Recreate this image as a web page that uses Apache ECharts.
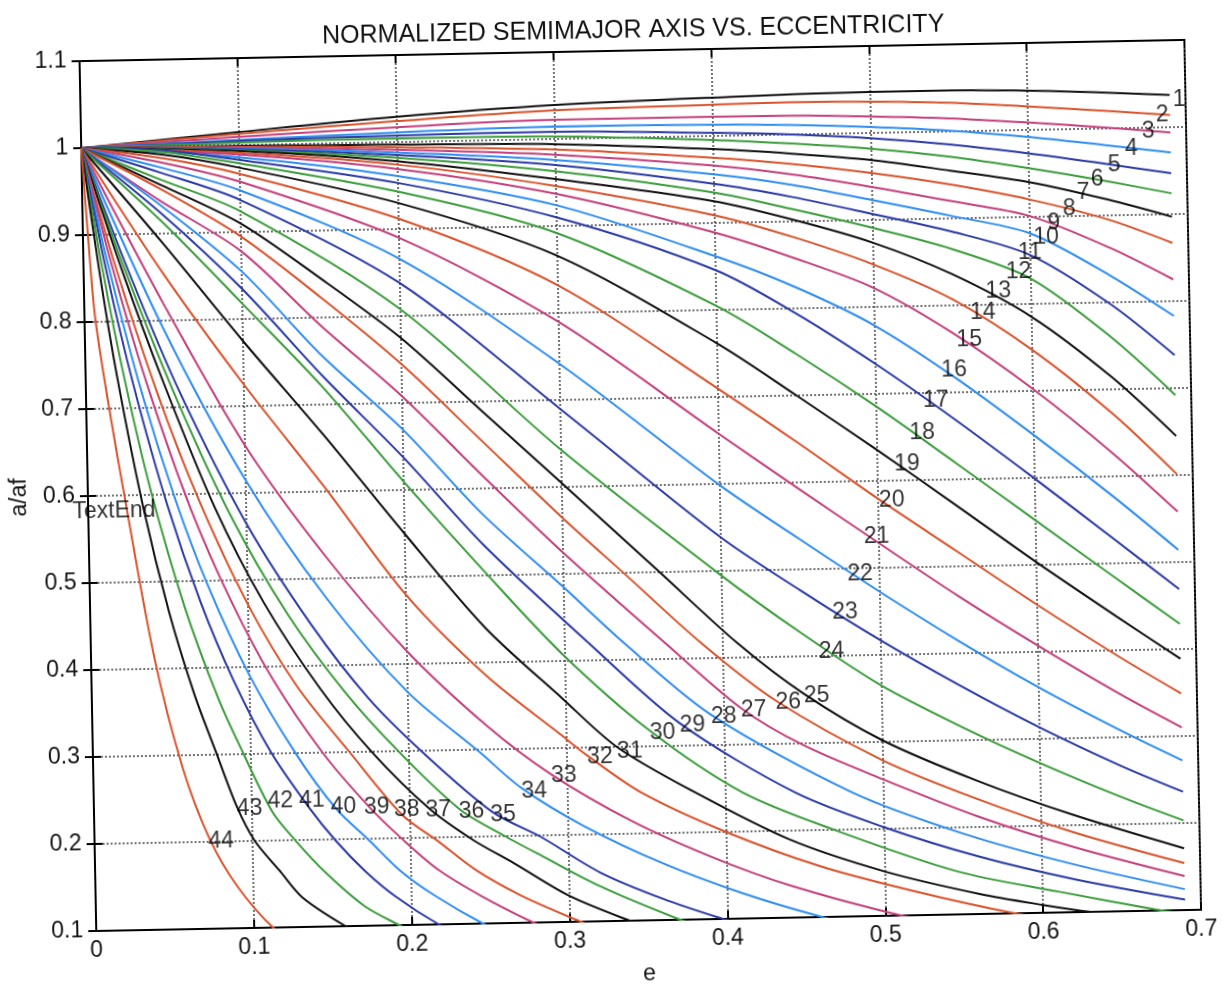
<!DOCTYPE html>
<html><head><meta charset="utf-8">
<script src="https://cdn.jsdelivr.net/npm/echarts@6/dist/echarts.min.js"></script>
<style>html,body{margin:0;padding:0;background:#fff;overflow:hidden;}#chart{width:1223px;height:991px;transform:rotate(-1.1deg);transform-origin:50% 50%;}</style>
</head><body><div id="chart"></div>
<script>
const chartTitle = 'NORMALIZED SEMIMAJOR AXIS VS. ECCENTRICITY';
const xName = 'e';
const yName = 'a/af';
const lineColors = ['#111111', '#d9532c', '#c4407c', '#2f8df2', '#2b3aa6', '#3c9d3c'];

// [e, a/af] points, one array per curve
const c01 = [[0,1],[0.1,1.015],[0.2,1.029],[0.3,1.039],[0.4,1.044],[0.5,1.047],[0.55,1.047],[0.6,1.045],[0.65,1.041],[0.69,1.037]];
const c02 = [[0,1],[0.1,1.013],[0.2,1.024],[0.3,1.033],[0.4,1.036],[0.45,1.037],[0.5,1.036],[0.55,1.033],[0.6,1.027],[0.65,1.02],[0.69,1.014]];
const c03 = [[0,1],[0.1,1.0095],[0.2,1.017],[0.3,1.022],[0.4,1.022],[0.45,1.0215],[0.5,1.019],[0.55,1.015],[0.6,1.0085],[0.65,1.001],[0.69,0.994]];
const c04 = [[0,1],[0.1,1.006],[0.2,1.011],[0.3,1.0145],[0.4,1.013],[0.45,1.011],[0.5,1.007],[0.55,1.001],[0.6,0.992],[0.65,0.9805],[0.69,0.971]];
const c05 = [[0,1],[0.1,1.0045],[0.2,1.0076],[0.3,1.0084],[0.4,1.0037],[0.45,1.0],[0.5,0.994],[0.55,0.985],[0.6,0.973],[0.65,0.959],[0.69,0.947]];
const c06 = [[0,1],[0.1,1.003],[0.2,1.0043],[0.3,1.003],[0.4,0.9955],[0.45,0.9896],[0.5,0.982],[0.55,0.971],[0.6,0.956],[0.65,0.939],[0.69,0.924]];
const c07 = [[0,1],[0.1,0.999],[0.2,0.997],[0.3,0.994],[0.4,0.985],[0.45,0.978],[0.5,0.969],[0.55,0.955],[0.6,0.94],[0.65,0.918],[0.69,0.897]];
const c08 = [[0,1],[0.1,0.998],[0.2,0.994],[0.3,0.988],[0.4,0.975],[0.45,0.966],[0.5,0.954],[0.55,0.939],[0.6,0.92],[0.65,0.895],[0.69,0.867]];
const c09 = [[0,1],[0.1,0.997],[0.2,0.991],[0.3,0.982],[0.4,0.966],[0.45,0.954],[0.5,0.938],[0.55,0.92],[0.6,0.901],[0.65,0.863],[0.69,0.825]];
const c10 = [[0,1],[0.1,0.996],[0.2,0.988],[0.3,0.976],[0.4,0.956],[0.45,0.942],[0.5,0.923],[0.55,0.903],[0.6,0.881],[0.65,0.831],[0.69,0.783]];
const c11 = [[0,1],[0.1,0.995],[0.2,0.985],[0.3,0.97],[0.4,0.945],[0.45,0.928],[0.5,0.907],[0.55,0.885],[0.6,0.856],[0.65,0.798],[0.69,0.738]];
const c12 = [[0,1],[0.1,0.994],[0.2,0.982],[0.3,0.963],[0.4,0.935],[0.45,0.914],[0.5,0.891],[0.55,0.865],[0.6,0.829],[0.65,0.76],[0.69,0.692]];
const c13 = [[0,1],[0.1,0.993],[0.2,0.978],[0.3,0.954],[0.4,0.925],[0.45,0.902],[0.5,0.874],[0.55,0.836],[0.6,0.785],[0.65,0.714],[0.69,0.645]];
const c14 = [[0,1],[0.1,0.991],[0.2,0.974],[0.3,0.946],[0.4,0.909],[0.45,0.882],[0.5,0.849],[0.55,0.807],[0.6,0.747],[0.65,0.672],[0.69,0.601]];
const c15 = [[0,1],[0.1,0.989],[0.2,0.969],[0.3,0.937],[0.4,0.889],[0.45,0.858],[0.5,0.822],[0.55,0.768],[0.6,0.702],[0.65,0.626],[0.69,0.558]];
const c16 = [[0,1],[0.1,0.986],[0.2,0.961],[0.3,0.924],[0.4,0.862],[0.45,0.825],[0.5,0.779],[0.55,0.718],[0.6,0.649],[0.65,0.576],[0.69,0.514]];
const c17 = [[0,1],[0.05,0.996],[0.1,0.983],[0.2,0.953],[0.3,0.91],[0.4,0.846],[0.45,0.795],[0.5,0.735],[0.55,0.669],[0.6,0.599],[0.65,0.527],[0.69,0.469]];
const c18 = [[0,1],[0.05,0.994],[0.1,0.979],[0.2,0.943],[0.3,0.892],[0.4,0.805],[0.45,0.748],[0.5,0.686],[0.55,0.619],[0.6,0.551],[0.65,0.483],[0.69,0.429]];
const c19 = [[0,1],[0.05,0.991],[0.1,0.974],[0.2,0.93],[0.3,0.866],[0.4,0.762],[0.45,0.7],[0.5,0.636],[0.55,0.57],[0.6,0.503],[0.65,0.439],[0.69,0.389]];
const c20 = [[0,1],[0.05,0.987],[0.1,0.967],[0.2,0.912],[0.3,0.832],[0.4,0.71],[0.45,0.646],[0.5,0.58],[0.55,0.517],[0.6,0.454],[0.65,0.394],[0.69,0.349]];
const c21 = [[0,1],[0.05,0.982],[0.1,0.958],[0.2,0.89],[0.3,0.79],[0.4,0.658],[0.45,0.593],[0.5,0.529],[0.55,0.466],[0.6,0.407],[0.65,0.351],[0.69,0.31]];
const c22 = [[0,1],[0.05,0.976],[0.1,0.948],[0.2,0.866],[0.3,0.742],[0.4,0.599],[0.45,0.535],[0.5,0.473],[0.55,0.414],[0.6,0.359],[0.65,0.309],[0.69,0.272]];
const c23 = [[0,1],[0.05,0.97],[0.1,0.937],[0.2,0.838],[0.3,0.69],[0.4,0.539],[0.45,0.476],[0.5,0.417],[0.55,0.363],[0.6,0.313],[0.65,0.268],[0.69,0.236]];
const c24 = [[0,1],[0.05,0.962],[0.1,0.924],[0.2,0.808],[0.3,0.643],[0.4,0.495],[0.45,0.427],[0.5,0.365],[0.55,0.316],[0.6,0.272],[0.65,0.232],[0.69,0.203]];
const c25 = [[0,1],[0.05,0.956],[0.1,0.91],[0.15,0.845],[0.2,0.775],[0.25,0.69],[0.3,0.605],[0.36,0.502],[0.41,0.416],[0.451,0.357],[0.5,0.302],[0.56,0.253],[0.62,0.212],[0.69,0.171]];
const c26 = [[0,1],[0.05,0.951],[0.1,0.895],[0.15,0.823],[0.2,0.745],[0.25,0.655],[0.3,0.565],[0.34,0.497],[0.387,0.417],[0.433,0.35],[0.5,0.279],[0.56,0.232],[0.62,0.192],[0.69,0.154]];
const c27 = [[0,1],[0.05,0.937],[0.1,0.878],[0.15,0.79],[0.2,0.708],[0.25,0.615],[0.3,0.525],[0.364,0.418],[0.411,0.342],[0.45,0.298],[0.5,0.257],[0.56,0.212],[0.62,0.175],[0.69,0.139]];
const c28 = [[0,1],[0.05,0.932],[0.1,0.855],[0.15,0.756],[0.2,0.67],[0.25,0.57],[0.3,0.485],[0.338,0.419],[0.392,0.335],[0.48,0.243],[0.55,0.193],[0.62,0.155],[0.69,0.124]];
const c29 = [[0,1],[0.05,0.923],[0.1,0.835],[0.15,0.733],[0.2,0.638],[0.25,0.535],[0.316,0.419],[0.372,0.326],[0.444,0.244],[0.5,0.202],[0.56,0.166],[0.62,0.138],[0.69,0.112]];
const c30 = [[0,1],[0.05,0.914],[0.1,0.818],[0.15,0.72],[0.2,0.61],[0.25,0.505],[0.298,0.409],[0.353,0.318],[0.411,0.245],[0.47,0.199],[0.547,0.149],[0.61,0.124],[0.675,0.1],[0.69,0.096]];
const c31 = [[0,1],[0.05,0.89],[0.1,0.775],[0.15,0.665],[0.2,0.55],[0.25,0.44],[0.298,0.357],[0.332,0.3],[0.379,0.248],[0.44,0.19],[0.5,0.151],[0.56,0.123],[0.6,0.109],[0.63,0.1],[0.66,0.094]];
const c32 = [[0,1],[0.05,0.855],[0.1,0.725],[0.15,0.605],[0.2,0.48],[0.25,0.385],[0.2975,0.314],[0.313,0.291],[0.347,0.247],[0.4,0.2],[0.46,0.158],[0.52,0.127],[0.582,0.1],[0.61,0.092]];
const c33 = [[0,1],[0.05,0.82],[0.1,0.655],[0.15,0.525],[0.2,0.415],[0.25,0.327],[0.29,0.27],[0.34,0.215],[0.39,0.172],[0.44,0.137],[0.51,0.1],[0.54,0.09]];
const c34 = [[0,1],[0.05,0.79],[0.1,0.615],[0.15,0.477],[0.2,0.368],[0.245,0.297],[0.271,0.255],[0.31,0.21],[0.36,0.165],[0.41,0.129],[0.46,0.1],[0.48,0.092]];
const c35 = [[0,1],[0.03,0.85],[0.06,0.715],[0.1,0.565],[0.14,0.447],[0.175,0.362],[0.209,0.298],[0.2524,0.228],[0.283,0.198],[0.32,0.156],[0.36,0.124],[0.397,0.1],[0.41,0.093]];
const c36 = [[0,1],[0.025,0.865],[0.055,0.72],[0.09,0.575],[0.125,0.46],[0.16,0.37],[0.194,0.299],[0.2316,0.232],[0.26,0.2],[0.2836,0.176],[0.32,0.14],[0.37,0.1],[0.38,0.095]];
const c37 = [[0,1],[0.025,0.855],[0.05,0.725],[0.08,0.585],[0.11,0.474],[0.145,0.373],[0.177,0.299],[0.2126,0.233],[0.24,0.196],[0.266,0.168],[0.3,0.13],[0.338,0.1],[0.35,0.093]];
const c38 = [[0,1],[0.02,0.865],[0.045,0.718],[0.07,0.594],[0.1,0.472],[0.13,0.377],[0.1626,0.3],[0.195,0.227],[0.218,0.195],[0.241,0.162],[0.27,0.131],[0.307,0.1],[0.32,0.091]];
const c39 = [[0,1],[0.02,0.85],[0.04,0.72],[0.065,0.583],[0.09,0.474],[0.115,0.385],[0.1455,0.3],[0.1746,0.236],[0.196,0.197],[0.218,0.162],[0.245,0.131],[0.277,0.1],[0.29,0.09]];
const c40 = [[0,1],[0.015,0.87],[0.035,0.72],[0.055,0.596],[0.075,0.494],[0.1,0.391],[0.128,0.301],[0.153,0.236],[0.174,0.198],[0.193,0.163],[0.215,0.133],[0.245,0.1],[0.26,0.088]];
const c41 = [[0,1],[0.015,0.853],[0.03,0.728],[0.05,0.589],[0.07,0.476],[0.09,0.385],[0.1127,0.302],[0.1367,0.236],[0.153,0.198],[0.171,0.163],[0.19,0.133],[0.217,0.1],[0.23,0.09]];
const c42 = [[0,1],[0.012,0.86],[0.025,0.73],[0.04,0.604],[0.06,0.47],[0.08,0.365],[0.095,0.302],[0.113,0.233],[0.1275,0.199],[0.146,0.162],[0.17,0.123],[0.192,0.1],[0.2,0.093]];
const c43 = [[0,1],[0.01,0.858],[0.02,0.736],[0.035,0.585],[0.05,0.465],[0.065,0.37],[0.078,0.303],[0.0905,0.24],[0.1015,0.2],[0.117,0.165],[0.131,0.134],[0.158,0.1],[0.17,0.09]];
const c44 = [[0,1],[0.0035,0.89],[0.0067,0.806],[0.014,0.707],[0.023,0.601],[0.04,0.414],[0.0568,0.285],[0.073,0.203],[0.09,0.148],[0.112,0.1],[0.125,0.085]];
const curves = [c01,c02,c03,c04,c05,c06,c07,c08,c09,c10,c11,c12,c13,c14,c15,c16,c17,c18,c19,c20,c21,c22,
  c23,c24,c25,c26,c27,c28,c29,c30,c31,c32,c33,c34,c35,c36,c37,c38,c39,c40,c41,c42,c43,c44];

// curve number labels: position (e, a/af) of the left-middle point of each number
const labelE = [0.692,0.681,0.672,0.661,0.650,0.639,0.630,0.621,0.611,0.602,0.592,0.584,0.571,0.561,0.552,0.542,0.530,0.521,0.511,0.501,0.491,0.480,
  0.470,0.461,0.451,0.433,0.411,0.392,0.372,0.353,0.332,0.313,0.290,0.271,0.251,0.231,0.210,0.190,0.171,0.150,0.130,0.110,0.0905,0.072];
const labelA = [1.034,1.017,0.998,0.978,0.96,0.944,0.929,0.911,0.895,0.878,0.861,0.839,0.818,0.794,0.762,0.728,0.694,0.657,0.621,0.58,0.538,0.496,
  0.452,0.407,0.357,0.35,0.342,0.335,0.326,0.318,0.297,0.291,0.27,0.253,0.227,0.232,0.234,0.235,0.238,0.24,0.248,0.247,0.24,0.203];
const noteText = 'TextEnd';
const notePos = [-0.01, 0.585];

const FONT = 'Liberation Sans, Arial, sans-serif';
const series = curves.map((c, i) => ({
  type: 'line', data: c, symbol: 'none', smooth: 0.3, clip: true,
  lineStyle: { color: lineColors[i % 6], width: 2 }, silent: true, z: 3
}));
series.push({
  type: 'scatter', symbolSize: 0, clip: false, silent: true, z: 6,
  data: labelE.map((e, i) => [e, labelA[i], String(i + 1)]),
  label: { show: true, position: 'right', distance: 0, offset: [0, 2], formatter: p => p.value[2], color: '#000', fontSize: 23, fontFamily: FONT }
});
series.push({
  type: 'scatter', symbolSize: 0, clip: false, silent: true, z: 6,
  data: [[notePos[0], notePos[1], noteText]],
  label: { show: true, position: 'right', distance: 0, offset: [0, 3], formatter: p => p.value[2], color: '#000', fontSize: 23, fontFamily: FONT }
});
const tickFmt = v => String(+v.toFixed(2));
const chart = echarts.init(document.getElementById('chart'), null, { renderer: 'canvas' });
chart.setOption({
  animation: false,
  backgroundColor: '#fff',
  title: { text: chartTitle, left: 326, top: 14, textStyle: { fontFamily: FONT, fontSize: 25, fontWeight: 'normal', color: '#111' } },
  grid: { left: 86, right: 30, top: 51, bottom: 61, show: true, borderColor: '#000', borderWidth: 2, backgroundColor: 'transparent' },
  xAxis: [{
    type: 'value', min: 0, max: 0.7, interval: 0.1, position: 'bottom',
    name: xName, nameLocation: 'middle', nameGap: 42, nameTextStyle: { fontFamily: FONT, fontSize: 23, color: '#111' },
    axisLine: { show: true, lineStyle: { color: '#000', width: 2 } },
    axisTick: { inside: true, length: 8, lineStyle: { color: '#000', width: 2 } },
    axisLabel: { formatter: tickFmt, margin: 8, fontFamily: FONT, fontSize: 23, color: '#111' },
    splitLine: { show: true, lineStyle: { color: '#444', width: 1.5, type: [2, 2] } }
  }, {
    type: 'value', min: 0, max: 0.7, interval: 0.1, position: 'top',
    axisLine: { show: true, lineStyle: { color: '#000', width: 2 } },
    axisTick: { inside: true, length: 8, lineStyle: { color: '#000', width: 2 } },
    axisLabel: { show: false }, splitLine: { show: false }
  }],
  yAxis: [{
    type: 'value', min: 0.1, max: 1.1, interval: 0.1, position: 'left',
    name: yName, nameLocation: 'middle', nameRotate: 90, nameGap: 57, nameTextStyle: { fontFamily: FONT, fontSize: 23, color: '#111' },
    axisLine: { show: true, lineStyle: { color: '#000', width: 2 } },
    axisTick: { inside: true, length: 8, lineStyle: { color: '#000', width: 2 } },
    axisLabel: { formatter: tickFmt, margin: 13, fontFamily: FONT, fontSize: 23, color: '#111' },
    splitLine: { show: true, lineStyle: { color: '#444', width: 1.5, type: [2, 2] } }
  }, {
    type: 'value', min: 0.1, max: 1.1, interval: 0.1, position: 'right',
    axisLine: { show: true, lineStyle: { color: '#000', width: 2 } },
    axisTick: { inside: true, length: 8, lineStyle: { color: '#000', width: 2 } },
    axisLabel: { show: false }, splitLine: { show: false }
  }],
  series: series
});
</script></body></html>
